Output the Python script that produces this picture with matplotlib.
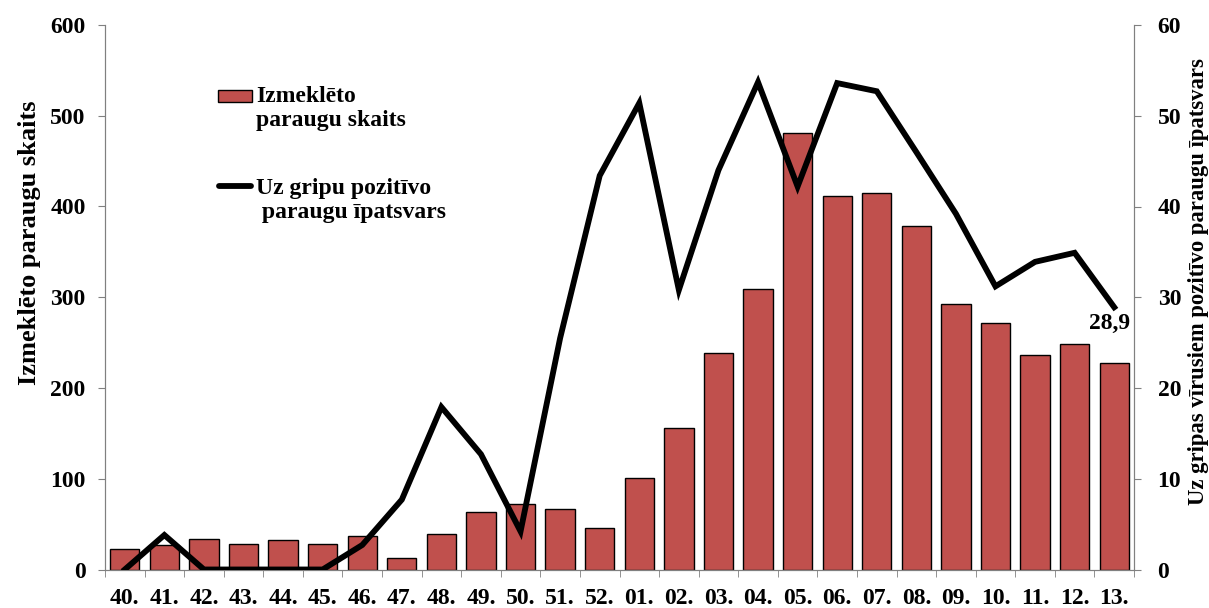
import matplotlib
matplotlib.use("Agg")
import matplotlib.pyplot as plt
import numpy as np
from matplotlib.patches import Rectangle
from matplotlib.lines import Line2D

weeks = ["40.", "41.", "42.", "43.", "44.", "45.", "46.", "47.", "48.", "49.", "50.", "51.", "52.",
         "01.", "02.", "03.", "04.", "05.", "06.", "07.", "08.", "09.", "10.", "11.", "12.", "13."]
samples = [23, 27, 34, 28, 32, 28, 37, 13, 39, 63, 72, 67, 46,
           101, 156, 239, 309, 481, 412, 415, 379, 293, 272, 236, 249, 228]
positive_pct = [0, 3.8, 0, 0, 0, 0, 2.7, 7.7, 17.9, 12.7, 4.2, 25.5, 43.4,
                51.4, 30.8, 44.0, 53.7, 42.2, 53.6, 52.7, 46.0, 39.2, 31.2, 33.9, 34.9, 28.9]
last_label = "28,9"
legend_bar = ["Izmeklēto", "paraugu skaits"]
legend_line = ["Uz gripu pozitīvo", " paraugu īpatsvars"]

plt.rcParams['font.family'] = ['Liberation Serif', 'DejaVu Serif']
plt.rcParams['font.weight'] = 'bold'

W, H = 1209, 608
fig = plt.figure(figsize=(W / 100, H / 100), dpi=100)
L, R, B, T = 105, 1134, 569.5, 25
ax = fig.add_axes([L / W, 1 - B / H, (R - L) / W, (B - T) / H])
x = np.arange(len(weeks))

bar_color = "#C0504D"
gray = '#808080'
ax.bar(x, samples, width=0.74, color=bar_color, edgecolor="black", linewidth=1.0, zorder=2)
ax.set_xlim(-0.5, len(weeks) - 0.5)
ax.set_ylim(0, 600)
ax.set_yticks(np.arange(0, 601, 100))
ax.set_xticks(x)
ax.set_xticklabels(weeks, fontsize=17, fontweight='bold')
ax.set_xticks(np.arange(-0.5, len(weeks), 1), minor=True)
ax.tick_params(axis='x', which='major', length=0, pad=13)
ax.tick_params(axis='x', which='minor', length=5, color=gray, direction='out')
ax.tick_params(axis='y', length=5, color=gray, direction='out', labelsize=17, pad=9)
for lab in ax.get_yticklabels():
    lab.set_fontweight('bold')
ax.set_ylabel("Izmeklēto paraugu skaits", fontsize=19, fontweight='bold')
ax.yaxis.set_label_coords(-0.0622, 0.601)

ax.spines['top'].set_visible(False)
for s in ['left', 'bottom', 'right']:
    ax.spines[s].set_color(gray)

ax2 = ax.twinx()
ax2.plot(x, positive_pct, color="black", linewidth=4.2, solid_joinstyle='miter', zorder=3)
ax2.set_ylim(0, 60)
ax2.set_yticks(np.arange(0, 61, 10))
ax2.tick_params(axis='y', length=5, color=gray, direction='out', labelsize=17, pad=12)
for lab in ax2.get_yticklabels():
    lab.set_fontweight('bold')
ax2.spines['top'].set_visible(False)
for s in ['left', 'bottom', 'right']:
    ax2.spines[s].set_color(gray)
ax2.set_ylabel("Uz gripas vīrusiem pozitīvo paraugu īpatsvars", fontsize=16.3, fontweight='bold')
ax2.yaxis.set_label_coords(1.052, 0.528)

ax2.annotate(last_label, xy=(x[-1], positive_pct[-1]), xytext=(-5, -16), textcoords='offset pixels',
             ha='center', va='center', fontsize=17, fontweight='bold')

# legend (manual, handles aligned with first text line as in the reference)
fs_leg = 17
fig.patches.append(Rectangle((218 / W, 1 - 102 / H), 34 / W, 12 / H, transform=fig.transFigure,
                             facecolor=bar_color, edgecolor='black', linewidth=1.0))
fig.lines.append(Line2D([219 / W, 251 / W], [1 - 186 / H, 1 - 186 / H], transform=fig.transFigure,
                        color='black', linewidth=4.2, solid_capstyle='round'))
fig.text(256 / W, 1 - 102 / H, legend_bar[0], fontsize=fs_leg, fontweight='bold', va='baseline')
fig.text(256 / W, 1 - 126 / H, legend_bar[1], fontsize=fs_leg, fontweight='bold', va='baseline')
fig.text(256 / W, 1 - 194 / H, legend_line[0], fontsize=fs_leg, fontweight='bold', va='baseline')
fig.text(256 / W, 1 - 218 / H, legend_line[1], fontsize=fs_leg, fontweight='bold', va='baseline')

fig.savefig("out.png", dpi=100)
